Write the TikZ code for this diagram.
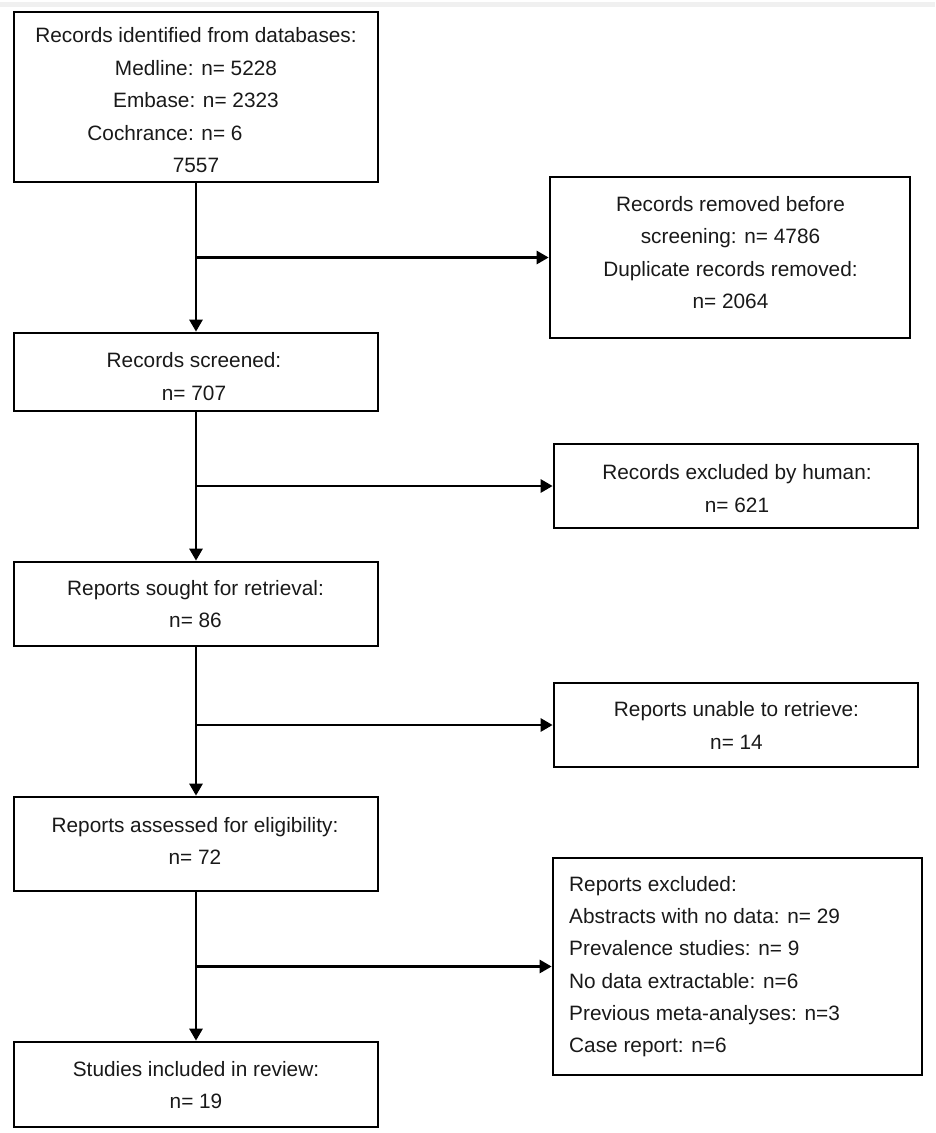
\documentclass[tikz,border=0pt]{standalone}
\usepackage{fontspec}
\setmainfont{Liberation Sans}
\usetikzlibrary{arrows.meta}
\begin{document}
\begin{tikzpicture}[x=1pt,y=-1pt,
  box/.style={draw=black, line width=2.7pt, inner sep=0pt},
  txt/.style={font=\fontsize{20.8}{32.5}\selectfont, text=black!90, align=center, inner sep=0pt},
  txtl/.style={font=\fontsize{20.8}{32.3}\selectfont, text=black!90, align=left, inner sep=0pt, anchor=west},
  arr/.style={line width=2.7pt, -{Triangle[length=12pt,width=13pt]}}]
\useasboundingbox (0,0) rectangle (935,1133);
\fill[gray!12] (0,2) rectangle (935,7);
% left column boxes
\node[box, minimum width=364pt, minimum height=170pt] (b1) at (196,97) {};
\node[box, minimum width=364pt, minimum height=78pt] (b2) at (196,372) {};
\node[box, minimum width=364pt, minimum height=84pt] (b3) at (196,604) {};
\node[box, minimum width=364pt, minimum height=94pt] (b4) at (196,844) {};
\node[box, minimum width=364pt, minimum height=85pt] (b5) at (196,1084.5) {};
% right column boxes
\node[box, minimum width=360pt, minimum height=161pt] (r1) at (730,257.5) {};
\node[box, minimum width=364pt, minimum height=84pt] (r2) at (736,486) {};
\node[box, minimum width=364pt, minimum height=84pt] (r3) at (736,725) {};
\node[box, minimum width=369pt, minimum height=217pt] (r4) at (737.5,966.5) {};
% texts
\node[txt] (b1t) at (196,100.5) {Records identified from databases:\\Medline: n= 5228\\Embase: n= 2323\\Cochrance: n= 6\rule{62pt}{0pt}\\7557};
\node[txt] (b2t) at (194,376.5) {Records screened:\\n= 707};
\node[txt] (b3t) at (195.5,604) {Reports sought for retrieval:\\n= 86};
\node[txt] (b4t) at (195,841) {Reports assessed for eligibility:\\n= 72};
\node[txt] (b5t) at (196,1085) {Studies included in review:\\n= 19};
\node[txt] (r1t) at (730.5,252.5) {Records removed before\\screening: n= 4786\\Duplicate records removed:\\n= 2064};
\node[txt] (r2t) at (737,488.5) {Records excluded by human:\\n= 621};
\node[txt] (r3t) at (736.5,725.5) {Reports unable to retrieve:\\n= 14};
\node[txtl] (r4t) at (569,966.5) {Reports excluded:\\Abstracts with no data: n= 29\\Prevalence studies: n= 9\\No data extractable: n=6\\Previous meta-analyses: n=3\\Case report: n=6};
% connectors
\draw[arr] (b1.south) -- (b2.north);
\draw[arr] (b2.south) -- (b3.north);
\draw[arr] (b3.south) -- (b4.north);
\draw[arr] (b4.south) -- (b5.north);
\draw[arr] (b1.south |- r1.west) -- (r1.west);
\draw[arr] (b2.south |- r2.west) -- (r2.west);
\draw[arr] (b3.south |- r3.west) -- (r3.west);
\draw[arr] (b4.south |- r4.west) -- (r4.west);
\end{tikzpicture}
\end{document}
